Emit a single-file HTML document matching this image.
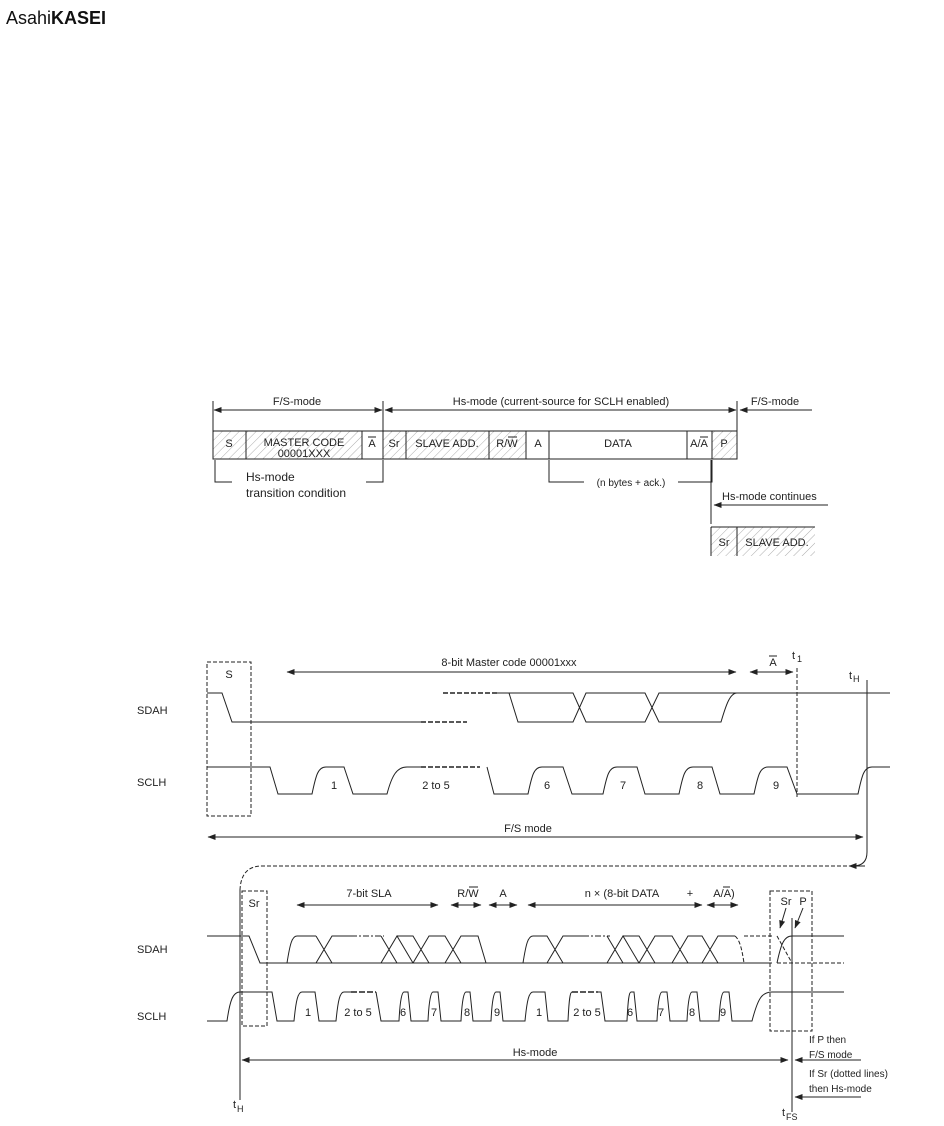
<!DOCTYPE html>
<html><head><meta charset="utf-8"><style>
html,body{margin:0;padding:0;background:#fff}
svg{display:block}
text{font-family:"Liberation Sans",sans-serif;font-size:11px;fill:#222}
</style></head><body>
<svg width="944" height="1126" viewBox="0 0 944 1126" xmlns="http://www.w3.org/2000/svg">
<defs>
<pattern id="h" width="6" height="6" patternUnits="userSpaceOnUse" patternTransform="rotate(45)">
<line x1="0" y1="0" x2="0" y2="6" stroke="#999" stroke-width="0.8"/></pattern>
<marker id="a" markerWidth="8" markerHeight="6" refX="7.5" refY="3" orient="auto-start-reverse" markerUnits="userSpaceOnUse"><path d="M0,0 L8,3 L0,6 z" fill="#222"/></marker>
</defs>
<text x="6" y="24" style="font-size:18px;fill:#111">Asahi<tspan font-weight="bold">KASEI</tspan></text>

<g stroke="#222" stroke-width="1" fill="none">
<!-- frame top arrows -->
<line x1="213" y1="401" x2="213" y2="431"/><line x1="383" y1="401" x2="383" y2="431"/><line x1="737" y1="401" x2="737" y2="431"/>
<line x1="214" y1="410" x2="382" y2="410" marker-start="url(#a)" marker-end="url(#a)"/>
<line x1="385" y1="410" x2="736" y2="410" marker-start="url(#a)" marker-end="url(#a)"/>
<line x1="812" y1="410" x2="740" y2="410" marker-end="url(#a)"/>
</g>
<g stroke="#222" stroke-width="1">
<rect x="213" y="431" width="33" height="28" fill="url(#h)"/>
<rect x="246" y="431" width="116" height="28" fill="url(#h)"/>
<rect x="362" y="431" width="21" height="28" fill="#fff"/>
<rect x="383" y="431" width="23" height="28" fill="url(#h)"/>
<rect x="406" y="431" width="83" height="28" fill="url(#h)"/>
<rect x="489" y="431" width="37" height="28" fill="url(#h)"/>
<rect x="526" y="431" width="23" height="28" fill="#fff"/>
<rect x="549" y="431" width="138" height="28" fill="#fff"/>
<rect x="687" y="431" width="25" height="28" fill="#fff"/>
<rect x="712" y="431" width="25" height="28" fill="url(#h)"/>
<rect x="711" y="527" width="26" height="29" fill="url(#h)" stroke="none"/>
<rect x="737" y="527" width="78" height="29" fill="url(#h)" stroke="none"/>
</g>
<g stroke="#222" stroke-width="1" fill="none">
<path d="M215,460 V482 H232 M366,482 H383 V460"/>
<path d="M549,460 V482 H584 M678,482 H712 V460"/>
<line x1="711" y1="460" x2="711" y2="524"/>
<path d="M711,527 V556 M711,527 H815 M737,527 V556"/>
<line x1="828" y1="505" x2="714" y2="505" marker-end="url(#a)"/>
</g>
<text x="229" y="447" text-anchor="middle">S</text>
<text x="304" y="446" text-anchor="middle">MASTER CODE</text>
<text x="304" y="457" text-anchor="middle">00001XXX</text>
<text x="372" y="447" text-anchor="middle">A</text><line x1="368" y1="437" x2="376" y2="437" stroke="#222"/>
<text x="394" y="447" text-anchor="middle">Sr</text>
<text x="447" y="447" text-anchor="middle">SLAVE ADD.</text>
<text x="507" y="447" text-anchor="middle">R/W</text><line x1="508" y1="437" x2="517" y2="437" stroke="#222"/>
<text x="538" y="447" text-anchor="middle">A</text>
<text x="618" y="447" text-anchor="middle">DATA</text>
<text x="699" y="447" text-anchor="middle">A/A</text><line x1="700" y1="437" x2="708" y2="437" stroke="#222"/>
<text x="724" y="447" text-anchor="middle">P</text>
<text x="297" y="405" text-anchor="middle">F/S-mode</text>
<text x="561" y="405" text-anchor="middle">Hs-mode (current-source for SCLH enabled)</text>
<text x="775" y="405" text-anchor="middle">F/S-mode</text>
<text x="246" y="481" style="font-size:12px">Hs-mode</text>
<text x="246" y="497" style="font-size:12px">transition condition</text>
<text x="631" y="486" text-anchor="middle" style="font-size:10px">(n bytes + ack.)</text>
<text x="722" y="500" style="font-size:11px">Hs-mode continues</text>
<text x="724" y="546" text-anchor="middle">Sr</text>
<text x="777" y="546" text-anchor="middle">SLAVE ADD.</text>

<!-- Upper timing -->
<g stroke="#222" stroke-width="1" fill="none">
<rect x="207" y="662" width="44" height="154" stroke-dasharray="4,2"/>
<line x1="287" y1="672" x2="736" y2="672" marker-start="url(#a)" marker-end="url(#a)"/>
<line x1="750" y1="672" x2="793" y2="672" marker-start="url(#a)" marker-end="url(#a)"/>
<line x1="797" y1="668" x2="797" y2="797" stroke-dasharray="4,2"/>
<path d="M867,680 V852 Q867,866 853,866"/>
<path d="M853,866 H262 Q241,866 240,890" stroke-dasharray="4,2"/>
<line x1="865" y1="866" x2="849" y2="866" marker-end="url(#a)"/>
<line x1="208" y1="837" x2="863" y2="837" marker-start="url(#a)" marker-end="url(#a)"/>
<!-- SDAH -->
<path d="M207,693 H222 L232,722 H421"/>
<path d="M421,722 H467 M443,693 H497" stroke-dasharray="5,2" stroke-width="1.5"/>
<path d="M497,693 H509 L518,722 H573 L586,693 H645 L659,722 H721 C726,705 730,693 737,693 H890"/>
<path d="M509,693 H573 L586,722 H645 L659,693 H737"/>
<!-- SCLH -->
<path d="M207,767 H270 L278,794 H312 C316,775 318,767 326,767 H344 L353,794 H387 C392,775 397,767 407,767 H421"/>
<path d="M421,767 H480" stroke-dasharray="5,2" stroke-width="1.5"/>
<path d="M487,767 L494,794 H528 C532,775 534,767 542,767 H563 L572,794 H603 C607,775 609,767 617,767 H637 L645,794 H679 C683,775 685,767 693,767 H712 L720,794 H754 C758,775 760,767 768,767 H787 L797,794 H858 C862,775 864,767 872,767 H890"/>
</g>
<text x="229" y="678" text-anchor="middle">S</text>
<text x="509" y="666" text-anchor="middle">8-bit Master code 00001xxx</text>
<text x="773" y="666" text-anchor="middle">A</text><line x1="769" y1="656" x2="777" y2="656" stroke="#222"/>
<text x="792" y="659">t</text><text x="797" y="662" style="font-size:9px">1</text>
<text x="849" y="679">t</text><text x="853" y="682" style="font-size:9px">H</text>
<text x="137" y="714">SDAH</text>
<text x="137" y="786">SCLH</text>
<text x="334" y="789" text-anchor="middle">1</text>
<text x="436" y="789" text-anchor="middle">2 to 5</text>
<text x="547" y="789" text-anchor="middle">6</text>
<text x="623" y="789" text-anchor="middle">7</text>
<text x="700" y="789" text-anchor="middle">8</text>
<text x="776" y="789" text-anchor="middle">9</text>
<text x="528" y="832" text-anchor="middle">F/S mode</text>

<!-- Lower timing -->
<g stroke="#222" stroke-width="1" fill="none">
<line x1="240" y1="890" x2="240" y2="1100"/>
<rect x="242" y="891" width="25" height="135" stroke-dasharray="4,2"/>
<rect x="770" y="891" width="42" height="140" stroke-dasharray="4,2"/>
<line x1="792" y1="918" x2="792" y2="1112"/>
<line x1="297" y1="905" x2="438" y2="905" marker-start="url(#a)" marker-end="url(#a)"/>
<line x1="451" y1="905" x2="481" y2="905" marker-start="url(#a)" marker-end="url(#a)"/>
<line x1="489" y1="905" x2="517" y2="905" marker-start="url(#a)" marker-end="url(#a)"/>
<line x1="528" y1="905" x2="702" y2="905" marker-start="url(#a)" marker-end="url(#a)"/>
<line x1="707" y1="905" x2="738" y2="905" marker-start="url(#a)" marker-end="url(#a)"/>
<line x1="786" y1="908" x2="780" y2="928" marker-end="url(#a)"/>
<line x1="803" y1="908" x2="795" y2="928" marker-end="url(#a)"/>
<line x1="242" y1="1060" x2="788" y2="1060" marker-start="url(#a)" marker-end="url(#a)"/>
<line x1="861" y1="1060" x2="795" y2="1060" marker-end="url(#a)"/>
<line x1="861" y1="1097" x2="795" y2="1097" marker-end="url(#a)"/>
<!-- SDAH -->
<path d="M207,936 H249 L260,963 H772"/>
<path d="M777,963 H844 M777,936 L792,963" stroke-dasharray="4,2"/>
<path d="M287,963 C290,944 292,936 297,936 H316 M316,936 L332,963 M316,963 L332,936 H351"/>
<path d="M351,936 H384" stroke-dasharray="6,2,2,2"/>
<path d="M381,936 L397,963 M381,963 L397,936 L413,963 M397,936 H413 L429,963 M413,963 L429,936 H445 L461,963 M445,963 L461,936 H478 L486,963"/>
<path d="M523,963 C526,944 528,936 533,936 H547 L563,963 M547,963 L563,936 H583"/>
<path d="M583,936 H610" stroke-dasharray="6,2,2,2"/>
<path d="M607,936 L623,963 M607,963 L623,936 L639,963 M623,936 H639 L655,963 M639,963 L655,936 H672 L688,963 M672,963 L688,936 H702 L718,963 M702,963 L718,936 H735"/>
<path d="M735,936 C740,940 742,950 744,963 M744,936 H772" stroke-dasharray="4,2"/>
<path d="M777,963 C781,944 784,936 792,936 H844"/>
<!-- SCLH -->
<path d="M207,1021 H227 C230,1000 233,992 240,992 H272 L277,1021 H294 C296,1000 298,992 302,992 H315 L319,1021 H336 C338,1000 340,992 344,992 H351 M376,992 L381,1021 H399 C400,1000 402,992 404,992 H408 L411,1021 H428 C429,1000 431,992 433,992 H438 L441,1021 H461 C462,1000 464,992 466,992 H470 L473,1021 H491 C492,1000 494,992 496,992 H500 L503,1021 H525 C527,1000 529,992 533,992 H545 L548,1021 H568 C569,1000 570,992 572,992 M598,992 H601 L605,1021 H627 C628,1000 629,992 631,992 H634 L637,1021 H657 C658,1000 660,992 662,992 H667 L670,1021 H687 C688,1000 690,992 692,992 H697 L700,1021 H719 C720,1000 722,992 724,992 H729 L732,1021 H752 C758,998 762,992 772,992 H844"/>
<path d="M351,992 H376 M572,992 H598" stroke-dasharray="6,2" stroke-width="1.5"/>
</g>
<text x="254" y="907" text-anchor="middle">Sr</text>
<text x="369" y="897" text-anchor="middle">7-bit SLA</text>
<text x="468" y="897" text-anchor="middle">R/W</text><line x1="469" y1="887" x2="478" y2="887" stroke="#222"/>
<text x="503" y="897" text-anchor="middle">A</text>
<text x="622" y="897" text-anchor="middle">n × (8-bit DATA</text>
<text x="690" y="897" text-anchor="middle">+</text>
<text x="724" y="897" text-anchor="middle">A/A)</text><line x1="723" y1="887" x2="730" y2="887" stroke="#222"/>
<text x="786" y="905" text-anchor="middle">Sr</text>
<text x="803" y="905" text-anchor="middle">P</text>
<text x="137" y="953">SDAH</text>
<text x="137" y="1020">SCLH</text>
<g text-anchor="middle">
<text x="308" y="1016">1</text><text x="358" y="1016">2 to 5</text>
<text x="403" y="1016">6</text><text x="434" y="1016">7</text><text x="467" y="1016">8</text><text x="497" y="1016">9</text>
<text x="539" y="1016">1</text><text x="587" y="1016">2 to 5</text>
<text x="630" y="1016">6</text><text x="661" y="1016">7</text><text x="692" y="1016">8</text><text x="723" y="1016">9</text>
<text x="535" y="1056">Hs-mode</text>
</g>
<text x="233" y="1108">t</text><text x="237" y="1112" style="font-size:9px">H</text>
<text x="782" y="1116">t</text><text x="786" y="1120" style="font-size:9px">FS</text>
<g style="font-size:10px">
<text x="809" y="1043" style="font-size:10px">If P then</text>
<text x="809" y="1058" style="font-size:10px">F/S mode</text>
<text x="809" y="1077" style="font-size:10px">If Sr (dotted lines)</text>
<text x="809" y="1092" style="font-size:10px">then Hs-mode</text>
</g>
</svg>
</body></html>
